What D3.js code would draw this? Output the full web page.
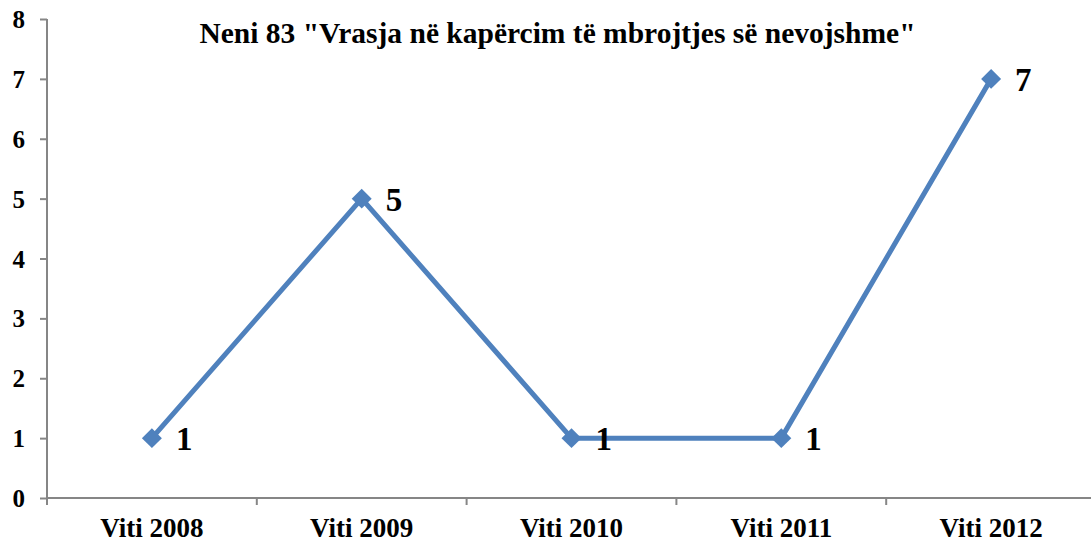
<!DOCTYPE html>
<html><head><meta charset="utf-8">
<script src="https://cdn.jsdelivr.net/npm/d3@7/dist/d3.min.js"></script>
<style>body{margin:0;background:#fff}svg{display:block}svg text{font-family:"Liberation Serif","Times New Roman",serif !important;font-weight:bold}</style>
</head><body>
<script>
const categories = ["Viti 2008","Viti 2009","Viti 2010","Viti 2011","Viti 2012"];
const values = [1,5,1,1,7];
const yTicks = [0,1,2,3,4,5,6,7,8];
const title = 'Neni 83 "Vrasja në kapërcim të mbrojtjes së nevojshme"';

const W=1091,H=542;
const svg=d3.select("body").append("svg").attr("width",W).attr("height",H);
const x0=47, x1=47+209.8*5, yTop=19, yBot=498;
const x=d3.scaleBand().domain(categories).range([x0,x1]);
const y=d3.scaleLinear().domain([0,8]).range([yBot,yTop]);

const yAxis=svg.append("g").attr("transform",`translate(${x0},0)`)
  .call(d3.axisLeft(y).tickValues(yTicks).tickSize(7).tickPadding(15).tickFormat(d3.format("d")));
yAxis.select(".domain").attr("stroke","#868686").attr("stroke-width",2).attr("d",`M0,${yTop}V${yBot}`);
yAxis.selectAll(".tick line").attr("stroke","#868686").attr("stroke-width",2);
yAxis.selectAll("text").style("font-size","25px").attr("fill","#000").attr("dy","0.34em");

const xAxis=svg.append("g").attr("transform",`translate(0,${yBot})`)
  .call(d3.axisBottom(x).tickSize(0).tickPadding(0));
xAxis.select(".domain").attr("stroke","#868686").attr("stroke-width",2).attr("d",`M${x0},0H${W}`);
xAxis.selectAll("text").style("font-size","27px").attr("fill","#000").attr("y",38.5).attr("dy",null);
svg.append("g").selectAll("line").data(d3.range(categories.length+1)).join("line")
  .attr("x1",i=>x0+x.step()*i).attr("x2",i=>x0+x.step()*i).attr("y1",yBot).attr("y2",yBot+7)
  .attr("stroke","#868686").attr("stroke-width",2);

const cx=d=>x(d)+x.bandwidth()/2;
svg.append("path").datum(categories.map((c,i)=>[cx(c),y(values[i])]))
  .attr("d",d3.line()).attr("fill","none").attr("stroke","#4F81BD").attr("stroke-width",5).attr("stroke-linejoin","round");
svg.append("g").selectAll("path").data(categories).join("path")
  .attr("d",d3.symbol(d3.symbolSquare,200))
  .attr("transform",(c,i)=>`translate(${cx(c)},${y(values[i])}) rotate(45)`)
  .attr("fill","#4F81BD");
svg.append("g").selectAll("text").data(categories).join("text")
  .attr("x",c=>cx(c)+24).attr("y",(c,i)=>y(values[i])+12)
  .style("font-size","33px").text((c,i)=>values[i]);

svg.append("text").attr("x",557.5).attr("y",42.5).attr("text-anchor","middle")
  .style("font-size","29.5px").text(title);
</script>
</body></html>
